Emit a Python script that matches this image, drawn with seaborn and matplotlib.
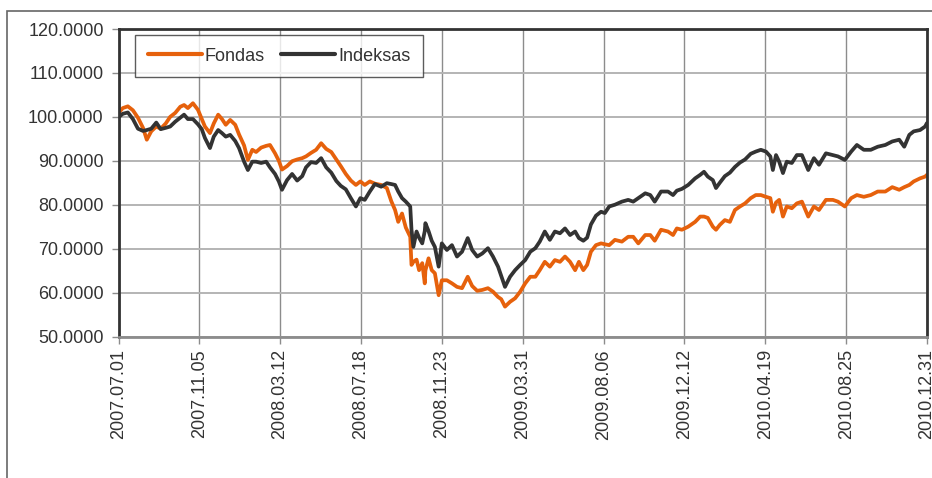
import pandas as pd
import matplotlib
matplotlib.use("Agg")
import matplotlib.pyplot as plt
import seaborn as sns
from matplotlib.lines import Line2D
from matplotlib.patches import Rectangle

# duomenys nuskaityti nuo grafiko
dates = [
    "2007-07-01", "2007-07-07", "2007-07-15", "2007-07-23", "2007-07-31", "2007-08-08",
    "2007-08-14", "2007-08-21", "2007-08-29", "2007-09-05", "2007-09-13", "2007-09-20",
    "2007-09-28", "2007-10-06", "2007-10-12", "2007-10-18", "2007-10-26", "2007-11-03",
    "2007-11-09", "2007-11-14", "2007-11-22", "2007-11-28", "2007-12-05", "2007-12-11",
    "2007-12-17", "2007-12-24", "2008-01-01", "2008-01-07", "2008-01-15", "2008-01-21",
    "2008-01-28", "2008-02-03", "2008-02-11", "2008-02-19", "2008-02-25", "2008-03-04",
    "2008-03-10", "2008-03-15", "2008-03-23", "2008-03-31", "2008-04-08", "2008-04-16",
    "2008-04-22", "2008-04-30", "2008-05-08", "2008-05-16", "2008-05-24", "2008-06-01",
    "2008-06-09", "2008-06-16", "2008-06-24", "2008-07-02", "2008-07-10", "2008-07-17",
    "2008-07-24", "2008-08-01", "2008-08-09", "2008-08-19", "2008-08-28", "2008-09-04",
    "2008-09-10", "2008-09-15", "2008-09-21", "2008-09-27", "2008-10-04", "2008-10-06",
    "2008-10-09", "2008-10-14", "2008-10-18", "2008-10-23", "2008-10-27", "2008-10-28",
    "2008-11-02", "2008-11-07", "2008-11-12", "2008-11-18", "2008-11-23", "2008-12-01",
    "2008-12-09", "2008-12-17", "2008-12-25", "2009-01-03", "2009-01-10", "2009-01-18",
    "2009-01-26", "2009-02-04", "2009-02-12", "2009-02-20", "2009-02-25", "2009-03-03",
    "2009-03-11", "2009-03-19", "2009-03-27", "2009-04-04", "2009-04-12", "2009-04-20",
    "2009-04-27", "2009-05-05", "2009-05-13", "2009-05-21", "2009-05-29", "2009-06-06",
    "2009-06-14", "2009-06-22", "2009-06-28", "2009-07-05", "2009-07-11", "2009-07-17",
    "2009-07-25", "2009-08-02", "2009-08-08", "2009-08-15", "2009-08-24", "2009-09-04",
    "2009-09-14", "2009-09-22", "2009-09-30", "2009-10-11", "2009-10-19", "2009-10-26",
    "2009-11-05", "2009-11-16", "2009-11-24", "2009-11-30", "2009-12-08", "2009-12-18",
    "2009-12-29", "2010-01-06", "2010-01-12", "2010-01-18", "2010-01-26", "2010-01-31",
    "2010-02-06", "2010-02-14", "2010-02-22", "2010-03-02", "2010-03-10", "2010-03-18",
    "2010-03-27", "2010-04-04", "2010-04-12", "2010-04-20", "2010-04-27", "2010-05-01",
    "2010-05-06", "2010-05-11", "2010-05-17", "2010-05-23", "2010-05-31", "2010-06-08",
    "2010-06-16", "2010-06-26", "2010-07-05", "2010-07-13", "2010-07-24", "2010-08-04",
    "2010-08-12", "2010-08-23", "2010-09-02", "2010-09-11", "2010-09-22", "2010-10-03",
    "2010-10-14", "2010-10-26", "2010-11-06", "2010-11-17", "2010-11-25", "2010-12-03",
    "2010-12-10", "2010-12-20", "2010-12-28", "2010-12-31",
]

fondas = [
    101.0, 102.0, 102.4, 101.5, 99.8, 97.5, 94.8, 96.7, 97.8, 97.3, 98.5, 100.0,
    100.9, 102.3, 102.7, 102.0, 103.1, 101.6, 99.5, 97.8, 96.3, 98.5, 100.5, 99.5,
    98.2, 99.3, 98.2, 96.0, 93.5, 90.2, 92.5, 92.0, 93.0, 93.4, 93.6, 91.7,
    90.0, 88.0, 88.8, 89.9, 90.3, 90.6, 91.0, 91.8, 92.5, 94.0, 92.7, 92.0,
    90.3, 88.8, 87.0, 85.5, 84.5, 85.3, 84.5, 85.3, 84.8, 84.5, 83.8, 80.8,
    78.8, 76.1, 78.0, 74.8, 72.7, 66.3, 67.0, 67.5, 65.1, 66.7, 62.1, 65.0,
    67.8, 65.1, 64.4, 59.4, 62.8, 62.8, 62.1, 61.3, 61.0, 63.6, 61.5, 60.4,
    60.6, 61.0, 60.2, 59.0, 58.5, 56.8, 57.9, 58.7, 60.2, 62.1, 63.6, 63.6,
    65.1, 67.0, 65.9, 67.4, 67.0, 68.2, 67.0, 65.1, 67.0, 65.1, 66.3, 69.3,
    70.8, 71.2, 71.0, 70.8, 72.0, 71.6, 72.7, 72.7, 71.2, 73.1, 73.1, 71.8,
    74.3, 73.9, 73.1, 74.6, 74.3, 75.0, 76.1, 77.3, 77.3, 77.0, 75.0, 74.3,
    75.4, 76.5, 76.1, 78.8, 79.6, 80.3, 81.5, 82.2, 82.2, 81.8, 81.5, 78.4,
    80.5, 81.1, 77.3, 79.6, 79.2, 80.3, 80.7, 77.3, 79.6, 78.8, 81.1, 81.1,
    80.7, 79.6, 81.5, 82.2, 81.8, 82.2, 83.0, 83.0, 84.0, 83.4, 84.0, 84.5,
    85.3, 86.0, 86.4, 86.8,
]

indeksas = [
    100.0, 100.7, 101.0, 99.5, 97.3, 96.8, 97.0, 97.3, 98.7, 97.2, 97.5, 97.8,
    98.9, 99.8, 100.5, 99.5, 99.5, 98.3, 97.2, 95.2, 92.9, 95.5, 97.0, 96.3,
    95.5, 95.9, 94.5, 92.9, 89.8, 87.9, 89.8, 89.8, 89.5, 89.8, 88.5, 87.0,
    85.3, 83.4, 85.6, 87.0, 85.5, 86.5, 88.5, 89.7, 89.5, 90.6, 88.5, 87.3,
    85.4, 84.3, 83.5, 81.5, 79.6, 81.5, 81.1, 83.0, 84.7, 84.1, 84.9, 84.7,
    84.5, 83.0, 81.5, 80.7, 79.6, 74.3, 70.4, 73.9, 72.5, 71.2, 74.0, 75.8,
    74.0, 71.8, 70.4, 65.9, 71.2, 69.7, 70.8, 68.2, 69.3, 72.4, 69.7, 68.2,
    68.9, 70.1, 68.2, 65.9, 63.8, 61.3, 63.6, 65.1, 66.3, 67.4, 69.3, 70.1,
    71.6, 73.9, 72.0, 73.9, 73.5, 74.6, 73.1, 73.9, 72.4, 71.8, 72.5, 75.5,
    77.5, 78.4, 78.1, 79.6, 80.0, 80.7, 81.1, 80.7, 81.5, 82.6, 82.2, 80.7,
    83.0, 83.0, 82.2, 83.2, 83.6, 84.5, 86.0, 86.8, 87.5, 86.4, 85.6, 83.8,
    85.0, 86.5, 87.3, 88.6, 89.6, 90.3, 91.6, 92.1, 92.5, 92.1, 91.0, 87.9,
    91.3, 89.8, 87.2, 89.8, 89.5, 91.3, 91.3, 87.9, 90.6, 89.1, 91.7, 91.3,
    91.0, 90.2, 92.1, 93.6, 92.5, 92.5, 93.2, 93.6, 94.4, 94.8, 93.2, 95.9,
    96.7, 97.0, 97.8, 98.6,
]

tick_dates = ["2007-07-01", "2007-11-05", "2008-03-12", "2008-07-18", "2008-11-23",
              "2009-03-31", "2009-08-06", "2009-12-12", "2010-04-19", "2010-08-25",
              "2010-12-31"]
y_ticks = [50, 60, 70, 80, 90, 100, 110, 120]

df = pd.DataFrame({"data": pd.to_datetime(dates), "Fondas": fondas, "Indeksas": indeksas})
df = df.melt(id_vars="data", var_name="serija", value_name="reiksme")

colors = {"Fondas": "#E6610C", "Indeksas": "#333333"}

sns.set_style("white")
plt.rcParams["font.family"] = ["Liberation Sans", "DejaVu Sans"]

fig = plt.figure(figsize=(9.32, 4.78), dpi=100)
ax = fig.add_axes([119 / 932, 1 - 336.5 / 478, 808 / 932, 307.5 / 478])

sns.lineplot(data=df, x="data", y="reiksme", hue="serija", palette=colors,
             linewidth=2.7, ax=ax, legend=False)

ax.set_xlim(pd.Timestamp("2007-07-01"), pd.Timestamp("2010-12-31"))
ax.set_ylim(50, 120)
ticks = pd.to_datetime(tick_dates)
ax.set_xticks(ticks)
ax.set_xticklabels([t.strftime("%Y.%m.%d") for t in ticks], rotation=90)
ax.set_yticks(y_ticks)
ax.set_yticklabels([f"{v:.4f}" for v in y_ticks])
ax.set_xlabel("")
ax.set_ylabel("")

ax.grid(True, axis="y", color="#b4b4b4", linewidth=1.4)
ax.grid(True, axis="x", color="#8c8c8c", linewidth=1.0)
ax.set_axisbelow(True)

for side in ["top", "right", "left"]:
    ax.spines[side].set_color("#333333")
    ax.spines[side].set_linewidth(2.0)
ax.spines["bottom"].set_color("#8c8c8c")
ax.spines["bottom"].set_linewidth(2.0)

ax.tick_params(axis="both", which="both", direction="out", length=5, width=1,
               color="#8c8c8c", labelsize=13, labelcolor="#333333")
ax.tick_params(axis="x", pad=4, bottom=True)
ax.tick_params(axis="y", pad=6, left=True)

handles = [Line2D([0], [0], color=colors[k], lw=3) for k in ["Fondas", "Indeksas"]]
leg = ax.legend(handles, ["Fondas", "Indeksas"], loc="upper left",
                bbox_to_anchor=(0.02, 0.98), borderaxespad=0, ncol=2, fontsize=13,
                frameon=True, fancybox=False, handlelength=3.0, handletextpad=0.15,
                columnspacing=0.9, borderpad=0.7, labelcolor="#333333")
leg.get_frame().set_edgecolor("#333333")
leg.get_frame().set_linewidth(1.0)

# išorinis rėmelis
fig.patches.append(Rectangle((7 / 932, -0.1), 1.2, 1.1 - 11 / 478,
                             transform=fig.transFigure, fill=False,
                             edgecolor="#666666", linewidth=1.2))

fig.savefig("out.png", dpi=100)
